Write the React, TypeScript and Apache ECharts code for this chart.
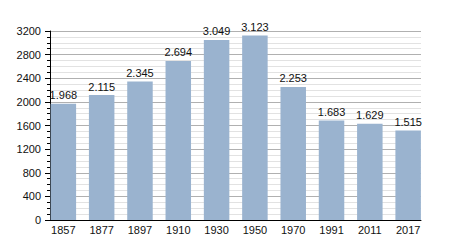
import React, { useEffect, useRef } from "react";
import * as echarts from "echarts";

const categories = ["1857", "1877", "1897", "1910", "1930", "1950", "1970", "1991", "2011", "2017"];
const population = [1968, 2115, 2345, 2694, 3049, 3123, 2253, 1683, 1629, 1515];
const yTickMax = 3200;
const yTickStep = 400;

const fmt = (v: number) => {
  const s = String(Math.round(v));
  return s.replace(/\B(?=(\d{3})+(?!\d))/g, ".");
};

const font = "Liberation Sans, Arial, sans-serif";

export default function App() {
  const ref = useRef<HTMLDivElement>(null);
  useEffect(() => {
    const chart = echarts.init(ref.current!, undefined, { renderer: "svg" });
    chart.setOption({
      animation: false,
      grid: [
        { left: 50, right: 29, top: 31, bottom: 30 },
        { left: 44.2, right: 22.7, top: 31, bottom: 30 },
      ],
      xAxis: [
        {
          gridIndex: 0,
          type: "category",
          data: categories,
          z: 5,
          axisLine: { lineStyle: { color: "#000", width: 1 } },
          axisTick: { show: false },
          axisLabel: { show: false },
        },
        {
          gridIndex: 1,
          type: "category",
          data: categories,
          axisLine: { show: false },
          axisTick: { show: false },
          axisLabel: { color: "#111", fontSize: 11, fontFamily: font, margin: 4 },
        },
      ],
      yAxis: [
        {
          gridIndex: 0,
          type: "value",
          min: 0,
          max: yTickMax,
          interval: yTickStep,
          axisLine: { show: true, lineStyle: { color: "#000", width: 1 } },
          axisTick: { show: true, length: 5, lineStyle: { color: "#000" } },
          minorTick: { show: true, splitNumber: 4, length: 3, lineStyle: { color: "#000" } },
          axisLabel: {
            color: "#111",
            fontSize: 11,
            fontFamily: font,
            margin: 9,
            formatter: (v: number) => String(v),
          },
          splitLine: { show: true, lineStyle: { color: "#b0b0b0", width: 1 } },
          minorSplitLine: { show: true, lineStyle: { color: "#e2e2e2", width: 1 } },
        },
        {
          gridIndex: 1,
          type: "value",
          min: 0,
          max: yTickMax,
          interval: yTickStep,
          show: false,
          splitLine: { show: false },
        },
      ],
      series: [
        {
          type: "bar",
          xAxisIndex: 1,
          yAxisIndex: 1,
          data: population,
          barWidth: 25.5,
          itemStyle: { color: "#9ab3cf" },
          label: {
            show: true,
            position: "top",
            distance: 3,
            color: "#111",
            fontSize: 11,
            fontFamily: font,
            formatter: (p: any) => fmt(p.value),
          },
        },
      ],
    });
    return () => chart.dispose();
  }, []);
  return <div ref={ref} style={{ width: 450, height: 250, position: "absolute", left: 0, top: 0, background: "#fff" }} />;
}
